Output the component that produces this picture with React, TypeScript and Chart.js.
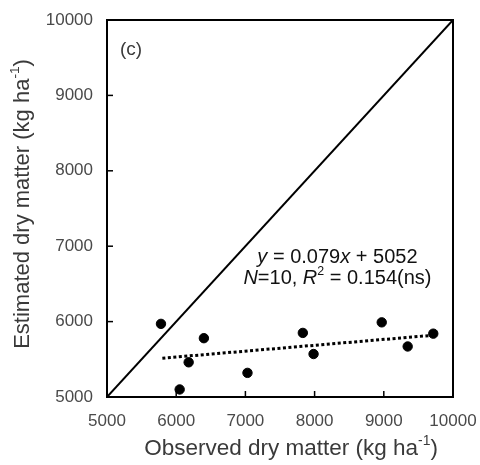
import React, { useEffect, useRef } from "react";
import { Chart, registerables } from "chart.js";
Chart.register(...registerables);

const observed = [5780, 6400, 6180, 6050, 7030, 7830, 7985, 8970, 9345, 9715];
const estimated = [5970, 5780, 5460, 5100, 5320, 5850, 5570, 5990, 5670, 5840];
const trendX = [5800, 9650];
const trendY = [5515, 5814];
const oneToOneX = [5000, 10000];
const oneToOneY = [5000, 10000];
const tickValues = [5000, 6000, 7000, 8000, 9000, 10000];

const FONT = "'Liberation Sans', Arial, sans-serif";
const TEXT = "#3a3a3a";
const TICK = "#4a4a4a";

type Piece = { t: string; italic?: boolean; sup?: boolean };

function drawPieces(ctx: CanvasRenderingContext2D, pieces: Piece[], cx: number, cy: number, size: number, color: string) {
  const fontFor = (p: Piece) => `${p.italic ? "italic " : ""}${p.sup ? size * 0.62 : size}px ${FONT}`;
  let total = 0;
  for (const p of pieces) {
    ctx.font = fontFor(p);
    total += ctx.measureText(p.t).width;
  }
  let x = cx - total / 2;
  ctx.fillStyle = color;
  ctx.textBaseline = "middle";
  ctx.textAlign = "left";
  for (const p of pieces) {
    ctx.font = fontFor(p);
    ctx.fillText(p.t, x, p.sup ? cy - size * 0.33 : cy);
    x += ctx.measureText(p.t).width;
  }
}

const decor = {
  id: "decor",
  afterDraw(chart: any) {
    const { ctx, chartArea: a, scales } = chart;
    const xs = scales.x, ys = scales.y;
    ctx.save();
    ctx.strokeStyle = "#000";
    ctx.lineWidth = 2;
    ctx.beginPath();
    ctx.moveTo(a.left, a.top);
    ctx.lineTo(a.left, a.bottom);
    ctx.lineTo(a.right, a.bottom);
    ctx.lineTo(a.right, a.top);
    ctx.closePath();
    ctx.stroke();
    ctx.lineWidth = 1.5;
    for (const v of tickValues.slice(1, -1)) {
      const px = xs.getPixelForValue(v);
      ctx.beginPath();
      ctx.moveTo(px, a.bottom);
      ctx.lineTo(px, a.bottom - 6);
      ctx.stroke();
      const py = ys.getPixelForValue(v);
      ctx.beginPath();
      ctx.moveTo(a.left, py);
      ctx.lineTo(a.left + 6, py);
      ctx.stroke();
    }
    // panel label
    ctx.font = `19px ${FONT}`;
    ctx.fillStyle = TEXT;
    ctx.textAlign = "left";
    ctx.textBaseline = "middle";
    ctx.fillText("(c)", a.left + 13, 50);
    // annotation
    const cx = xs.getPixelForValue(8330);
    drawPieces(ctx, [{ t: "y", italic: true }, { t: " = 0.079" }, { t: "x", italic: true }, { t: " + 5052" }], cx, 257, 20, "#111");
    drawPieces(ctx, [{ t: "N", italic: true }, { t: "=10, " }, { t: "R", italic: true }, { t: "2", sup: true }, { t: " = 0.154(ns)" }], cx, 278, 20, "#111");
    // axis titles
    drawPieces(ctx, [{ t: "Observed dry matter (kg ha" }, { t: "-1", sup: true }, { t: ")" }], 291, 449, 22.5, TEXT);
    ctx.translate(23, 204);
    ctx.rotate(-Math.PI / 2);
    drawPieces(ctx, [{ t: "Estimated dry matter (kg ha" }, { t: "-1", sup: true }, { t: ")" }], 0, 0, 22, TEXT);
    ctx.restore();
  },
};

export default function App() {
  const ref = useRef<HTMLCanvasElement | null>(null);
  useEffect(() => {
    document.body.style.margin = "0";
    const canvas = ref.current!;
    const chart = new Chart(canvas, {
      type: "scatter",
      data: {
        datasets: [
          {
            label: "1:1",
            type: "line",
            data: oneToOneX.map((x, i) => ({ x, y: oneToOneY[i] })),
            borderColor: "#000",
            borderWidth: 2,
            pointRadius: 0,
            fill: false,
          } as any,
          {
            label: "trend",
            type: "line",
            data: trendX.map((x, i) => ({ x, y: trendY[i] })),
            borderColor: "#000",
            borderWidth: 3,
            borderDash: [3, 2.5],
            pointRadius: 0,
            fill: false,
          } as any,
          {
            label: "obs",
            data: observed.map((x, i) => ({ x, y: estimated[i] })),
            backgroundColor: "#000",
            borderColor: "#000",
            pointRadius: 4.7,
          },
        ],
      },
      options: {
        animation: false,
        responsive: false,
        events: [],
        layout: { padding: { top: 20, right: 27, left: 0, bottom: 0 } },
        plugins: { legend: { display: false }, tooltip: { enabled: false } },
        scales: {
          x: {
            type: "linear",
            min: 5000,
            max: 10000,
            afterBuildTicks: (s: any) => { s.ticks = tickValues.map((v) => ({ value: v })); },
            afterFit: (s: any) => { s.height = 68; s.paddingLeft = 0; s.paddingRight = 0; },
            grid: { display: false, drawTicks: false },
            border: { display: false },
            ticks: { font: { family: FONT, size: 17 }, color: TICK, padding: 14, maxRotation: 0, autoSkip: false, callback: (v: any) => String(v) },
          },
          y: {
            type: "linear",
            min: 5000,
            max: 10000,
            afterBuildTicks: (s: any) => { s.ticks = tickValues.map((v) => ({ value: v })); },
            afterFit: (s: any) => { s.width = 107; s.paddingTop = 0; s.paddingBottom = 0; },
            grid: { display: false, drawTicks: false },
            border: { display: false },
            ticks: { font: { family: FONT, size: 17 }, color: TICK, padding: 14, autoSkip: false, callback: (v: any) => String(v) },
          },
        },
      },
      plugins: [decor],
    });
    return () => chart.destroy();
  }, []);
  return <canvas ref={ref} width={480} height={465} style={{ display: "block" }} />;
}
